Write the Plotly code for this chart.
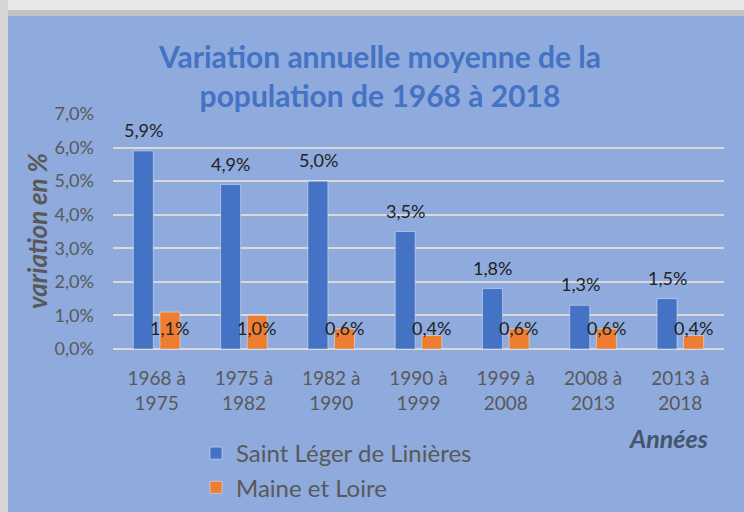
import plotly.graph_objects as go

categories = ["1968 à<br>1975", "1975 à<br>1982", "1982 à<br>1990", "1990 à<br>1999",
              "1999 à<br>2008", "2008 à<br>2013", "2013 à<br>2018"]
saint_leger = [0.059, 0.049, 0.050, 0.035, 0.018, 0.013, 0.015]
maine_loire = [0.011, 0.010, 0.006, 0.004, 0.006, 0.006, 0.004]
series_names = ["Saint Léger de Linières", "Maine et Loire"]
y_ticks = [0, 0.01, 0.02, 0.03, 0.04, 0.05, 0.06, 0.07]

W, H = 744, 512
ML, MR, MT, MB = 113, 20, 114, 163
PW, PH = W - ML - MR, H - MT - MB

def px_x(x):
    return (x - ML) / PW

def px_y(y):
    return 1 + (MT - y) / PH

FONT = "Lato"
BLUE = "#4472C4"
ORANGE = "#ED7D31"
BG = "#8FAADC"
GREY = "#595959"

fig = go.Figure()
fig.add_trace(go.Bar(x=categories, y=saint_leger, name=series_names[0], marker_color=BLUE))
fig.add_trace(go.Bar(x=categories, y=maine_loire, name=series_names[1], marker_color=ORANGE))

def fmt(v):
    return f"{v*100:.1f}%".replace(".", ",")

annotations = []
for c, v in zip(categories, saint_leger):
    annotations.append(dict(x=c, y=v, xref="x", yref="y", text=fmt(v), showarrow=False,
                            xanchor="center", yanchor="middle",
                            xshift=-13, yshift=21, font=dict(family=FONT, size=18, color="#222222")))
for c, v in zip(categories, maine_loire):
    annotations.append(dict(x=c, y=0, xref="x", yref="y", text=fmt(v), showarrow=False,
                            xanchor="center", yanchor="middle",
                            xshift=13, yshift=21, font=dict(family=FONT, size=18, color="#222222")))
annotations.append(dict(x=px_x(37), y=px_y(231), xref="paper", yref="paper",
                        text="<b><i>variation en %</i></b>", xanchor="center", yanchor="middle",
                        textangle=-90, showarrow=False, font=dict(family=FONT, size=26, color=GREY)))
annotations.append(dict(x=px_x(668), y=px_y(438), xref="paper", yref="paper", text="<b><i>Années</i></b>",
                        xanchor="center", yanchor="middle",
                        showarrow=False, font=dict(family=FONT, size=25, color="#44546A")))

shapes = [
    dict(type="rect", xref="paper", yref="paper", x0=px_x(0), x1=px_x(W), y0=px_y(16), y1=px_y(0),
         fillcolor="#E8E8E8", line_width=0, layer="below"),
    dict(type="rect", xref="paper", yref="paper", x0=px_x(0), x1=px_x(W), y0=px_y(16), y1=px_y(10),
         fillcolor="#C2C2C2", line_width=0, layer="below"),
    dict(type="rect", xref="paper", yref="paper", x0=px_x(0), x1=px_x(8), y0=px_y(H), y1=px_y(0),
         fillcolor="#D6D6D6", line_width=0, layer="below"),
]

fig.update_layout(
    width=W, height=H,
    margin=dict(l=ML, r=MR, t=MT, b=MB, autoexpand=False),
    paper_bgcolor=BG, plot_bgcolor=BG,
    separators=", ",
    barmode="group", bargap=0.39, bargroupgap=0.25,
    title=dict(text="<b>Variation annuelle moyenne de la<br>population de 1968 à 2018</b>",
               x=380 / W, xanchor="center", xref="container",
               y=1 - 68 / H, yanchor="top", yref="container",
               font=dict(family=FONT, size=30, color=BLUE)),
    font=dict(family=FONT, color=GREY),
    yaxis=dict(range=[0, 0.07], tickvals=y_ticks, tickformat=".1%", automargin=False,
               showgrid=True, gridcolor="#D9D9D9", gridwidth=1.5,
               zeroline=True, zerolinecolor="#D9D9D9", zerolinewidth=1.5,
               showline=False, ticks="", tickfont=dict(family=FONT, size=18, color=GREY),
               ticklabelstandoff=18),
    xaxis=dict(showline=False, ticks="", showgrid=False, automargin=False,
               tickfont=dict(family=FONT, size=19, color=GREY), ticklabelstandoff=16),
    legend=dict(orientation="v", x=196 / W, xanchor="left", xref="container",
                y=1 - 431 / H, yanchor="top", yref="container",
                font=dict(family=FONT, size=24, color=GREY), bgcolor="rgba(0,0,0,0)",
                tracegroupgap=0),
    annotations=annotations,
    shapes=shapes,
)

fig.write_html("out.html", config={"displayModeBar": False},
               post_script="document.body.style.margin='0';document.body.style.overflow='hidden';")
